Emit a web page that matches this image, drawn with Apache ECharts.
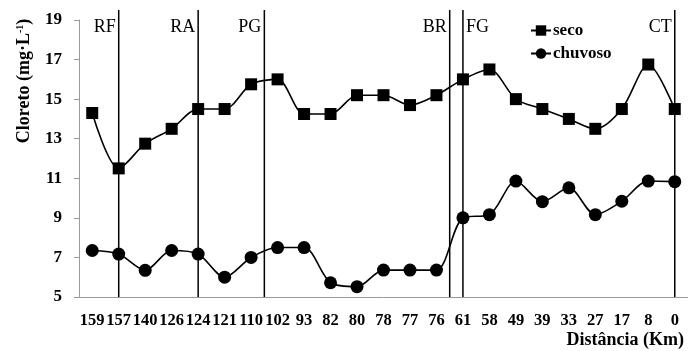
<!DOCTYPE html>
<html>
<head>
<meta charset="utf-8">
<script src="https://cdn.jsdelivr.net/npm/echarts@6/dist/echarts.min.js"></script>
<style>html,body{margin:0;padding:0;background:#fff}#c{width:688px;height:351px}</style>
</head>
<body>
<div id="c"></div>
<script>
const categories = ['159','157','140','126','124','121','110','102','93','82','80','78','77','76','61','58','49','39','33','27','17','8','0'];
const seco = [14.3,11.5,12.75,13.5,14.5,14.5,15.75,16.0,14.25,14.25,15.2,15.2,14.7,15.2,16.0,16.5,15.0,14.5,14.0,13.5,14.5,16.75,14.5];
const chuvoso = [7.35,7.17,6.35,7.35,7.17,6.0,7.0,7.5,7.5,5.72,5.52,6.36,6.36,6.36,9.0,9.16,10.86,9.82,10.52,9.16,9.84,10.86,10.83];
const yTicks = [5,7,9,11,13,15,17,19];
const stations = ['RF','RA','PG','BR','FG','CT'];
const stationPos = [1.5,4.5,7,14,14.5,22.5];
const stationSide = ['left','left','left','left','right','left'];

const FONT = "'Liberation Serif','Times New Roman',serif";
const chart = echarts.init(document.getElementById('c'), null, {renderer:'canvas'});
chart.setOption({
  animation:false,
  backgroundColor:'#fff',
  grid:{left:79, right:0, top:20, bottom:54, containLabel:false},
  legend:{
    data:['seco','chuvoso'], orient:'vertical', left:525, top:17, itemGap:6,
    itemWidth:20, itemHeight:13,
    textStyle:{fontFamily:FONT, fontWeight:'bold', fontSize:17, color:'#000', padding:[0,0,0,-3]}
  },
  xAxis:[{
    type:'category', data:categories, boundaryGap:true,
    axisLine:{lineStyle:{color:'#9a9a9a', width:1}},
    axisTick:{interval:0, length:5, lineStyle:{color:'#9a9a9a'}},
    axisLabel:{interval:0, margin:15, fontFamily:FONT, fontWeight:'bold', fontSize:16.5, color:'#000'}
  },{
    type:'value', min:0, max:23, show:false
  }],
  yAxis:{
    type:'value', min:yTicks[0], max:yTicks[yTicks.length-1], interval:2,
    splitLine:{show:false},
    axisLine:{show:true, lineStyle:{color:'#9a9a9a', width:1}},
    axisTick:{show:true, length:5, lineStyle:{color:'#9a9a9a'}},
    axisLabel:{margin:17, fontFamily:FONT, fontWeight:'bold', fontSize:17, color:'#000'}
  },
  graphic:[{
    type:'text', x:24, y:81, rotation:Math.PI/2,
    style:{text:'Cloreto (mg·L{s|-1})', align:'center', verticalAlign:'middle',
      font:"bold 18px 'Liberation Serif', serif", fill:'#000',
      rich:{s:{fontSize:10, fontWeight:'bold', fontFamily:FONT, verticalAlign:'top', padding:[0,0,8,0]}}}
  },{
    type:'text', right:4, top:331,
    style:{text:'Distância (Km)', font:"bold 18px 'Liberation Serif', serif", fill:'#000'}
  }],
  series:[{
    name:'seco', type:'line', data:seco, smooth:0.3,
    symbol:'rect', symbolSize:12,
    lineStyle:{color:'#000', width:1.6}, itemStyle:{color:'#000'}, z:3
  },{
    name:'chuvoso', type:'line', data:chuvoso, smooth:0.3,
    symbol:'circle', symbolSize:13,
    lineStyle:{color:'#000', width:1.6}, itemStyle:{color:'#000'}, z:3
  },{
    type:'custom', xAxisIndex:1, yAxisIndex:0, clip:false, silent:true,
    data:stations.map((s,i)=>({name:s, value:[stationPos[i], 5]})),
    encode:{x:0, y:1},
    renderItem:function(params, api){
      const i = params.dataIndex;
      const x = api.value(0);
      const p0 = api.coord([x, 5]);
      const p1 = api.coord([x, 19.5]);
      const pl = api.coord([x, 18.65]);
      const left = stationSide[i] === 'left';
      return {type:'group', children:[
        {type:'line', shape:{x1:p0[0], y1:p0[1], x2:p1[0], y2:p1[1]}, style:{stroke:'#000', lineWidth:1.5}},
        {type:'text', style:{text:stations[i], x: left ? pl[0]-3 : pl[0]+3, y:pl[1],
          align: left ? 'right' : 'left', verticalAlign:'middle',
          font:"18px 'Liberation Serif', serif", fill:'#000'}}
      ]};
    }
  }]
});
</script>
</body>
</html>
